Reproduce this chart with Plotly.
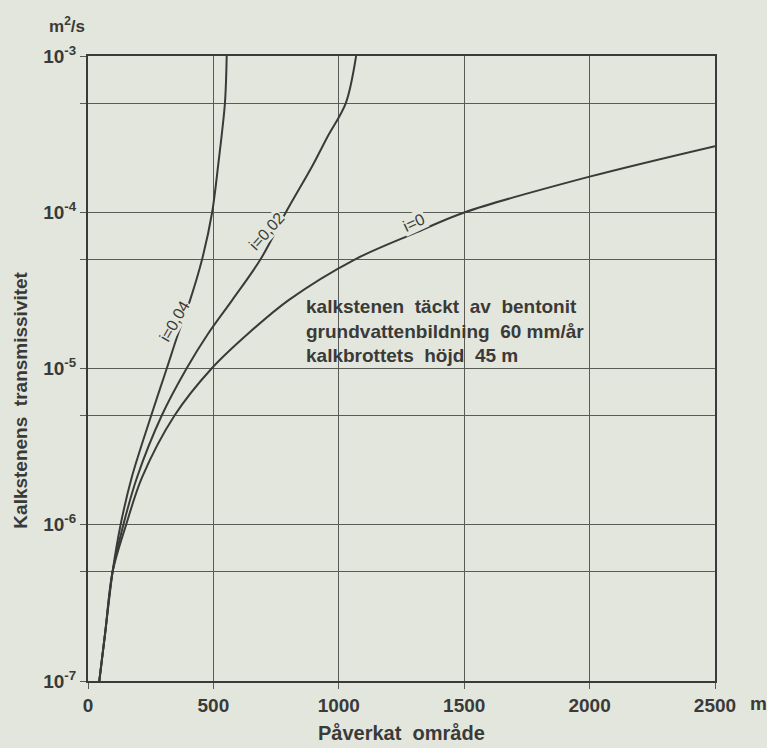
import plotly.graph_objects as go

# Data (x: affected area in m, y: transmissivity in m^2/s)
x_i004 = [45, 68, 98, 130, 174, 252, 314, 360, 407, 455, 495, 519, 546, 553]
y_i004 = [1e-7, 2e-7, 5e-7, 1e-6, 2e-6, 5e-6, 1e-5, 1.68e-5, 2.74e-5, 5e-5, 1e-4, 2e-4, 5e-4, 1e-3]

x_i002 = [45, 68, 98, 141, 195, 294, 393, 480, 575, 688, 789, 896, 953, 1028, 1069]
y_i002 = [1e-7, 2e-7, 5e-7, 1e-6, 2e-6, 5e-6, 1e-5, 1.68e-5, 2.74e-5, 5e-5, 1e-4, 2e-4, 3e-4, 5e-4, 1e-3]

x_i0 = [45, 68, 98, 152, 215, 345, 493, 640, 800, 1065, 1300, 1503, 2000, 2500]
y_i0 = [1e-7, 2e-7, 5e-7, 1e-6, 2e-6, 5e-6, 1e-5, 1.68e-5, 2.74e-5, 5e-5, 7.33e-5, 1e-4, 1.69e-4, 2.65e-4]

x_ticks = [0, 500, 1000, 1500, 2000, 2500]
x_ticktext = ["0", "500", "1000", "1500", "2000", "2500"]
y_ticks = [1e-7, 1e-6, 1e-5, 1e-4, 1e-3]
y_ticktext = ["10<sup>-7</sup>", "10<sup>-6</sup>", "10<sup>-5</sup>", "10<sup>-4</sup>", "10<sup>-3</sup>"]
y_minor = [5e-7, 5e-6, 5e-5, 5e-4]

BG = "#e3e6dc"
INK = "#3a3a38"
GRID = "#5a5a56"
FONT = "Liberation Sans, Arial, sans-serif"

fig = go.Figure()
for xs, ys in [(x_i004, y_i004), (x_i002, y_i002), (x_i0, y_i0)]:
    fig.add_trace(go.Scatter(x=xs, y=ys, mode="lines",
                             line=dict(color=INK, width=2, shape="spline", smoothing=0.9),
                             showlegend=False, hoverinfo="skip"))

# curve labels
lab_font = dict(family=FONT, size=16, color=INK)
fig.add_annotation(x=343, y=-4.696, text="i=0,04", textangle=-60, showarrow=False,
                   font=lab_font, bgcolor=BG, borderpad=0)
fig.add_annotation(x=712, y=-4.125, text="i=0,02", textangle=-48, showarrow=False,
                   font=lab_font, bgcolor=BG, borderpad=0)
fig.add_annotation(x=1300, y=-4.066, text="i=0", textangle=-25, showarrow=False,
                   font=lab_font, bgcolor=BG, borderpad=1)

# info text
fig.add_annotation(x=862, y=-4.52, xanchor="left", yanchor="top", align="left",
                   text="<b>kalkstenen  täckt  av  bentonit<br>grundvattenbildning  60 mm/år<br>kalkbrottets  höjd  45 m</b>",
                   showarrow=False, font=dict(family=FONT, size=19, color=INK))

# unit labels
fig.add_annotation(xref="paper", yref="paper", x=-0.065, y=1.0496, xanchor="left", yanchor="middle",
                   text="<b>m<sup>2</sup>/s</b>", showarrow=False,
                   font=dict(family=FONT, size=17, color=INK))
fig.add_annotation(xref="paper", yref="paper", x=1.052, y=-0.036, xanchor="left", yanchor="middle",
                   text="<b>m</b>", showarrow=False,
                   font=dict(family=FONT, size=19, color=INK))

# axis titles
fig.add_annotation(xref="paper", yref="paper", x=0.5, y=-0.083, xanchor="center", yanchor="middle",
                   text="<b>Påverkat  område</b>", showarrow=False,
                   font=dict(family=FONT, size=20, color=INK))
fig.add_annotation(xref="paper", yref="paper", x=-0.107, y=0.45, xanchor="center", yanchor="middle",
                   text="<b>Kalkstenens  transmissivitet</b>", textangle=-90, showarrow=False,
                   font=dict(family=FONT, size=19, color=INK))

fig.update_xaxes(range=[0, 2500], tickvals=x_ticks, ticktext=x_ticktext,
                 showgrid=True, gridcolor=GRID, gridwidth=0.9,
                 showline=True, linecolor=INK, linewidth=2, mirror=True,
                 ticks="outside", ticklen=6, tickcolor=GRID, tickwidth=1,
                 tickfont=dict(family=FONT, size=19, color=INK, weight="bold"),
                 zeroline=False, automargin=False)
fig.update_yaxes(type="log", range=[-7, -3], tickvals=y_ticks, ticktext=y_ticktext,
                 showgrid=True, gridcolor=GRID, gridwidth=0.9,
                 showline=True, linecolor=INK, linewidth=2, mirror=True,
                 ticks="outside", ticklen=6, tickcolor=GRID, tickwidth=1,
                 tickfont=dict(family=FONT, size=19, color=INK, weight="bold"),
                 minor=dict(tickvals=y_minor, showgrid=True, gridcolor=GRID, gridwidth=0.9,
                            ticks="outside", ticklen=6, tickcolor=GRID),
                 zeroline=False, automargin=False)

fig.update_layout(width=767, height=748, paper_bgcolor=BG, plot_bgcolor=BG,
                  margin=dict(l=88, r=52, t=56, b=67),
                  font=dict(family=FONT, color=INK))

fig.write_html("out.html", config={"displayModeBar": False},
               post_script="document.body.style.margin='0';document.body.style.background='#e3e6dc';document.body.style.overflow='hidden';")
